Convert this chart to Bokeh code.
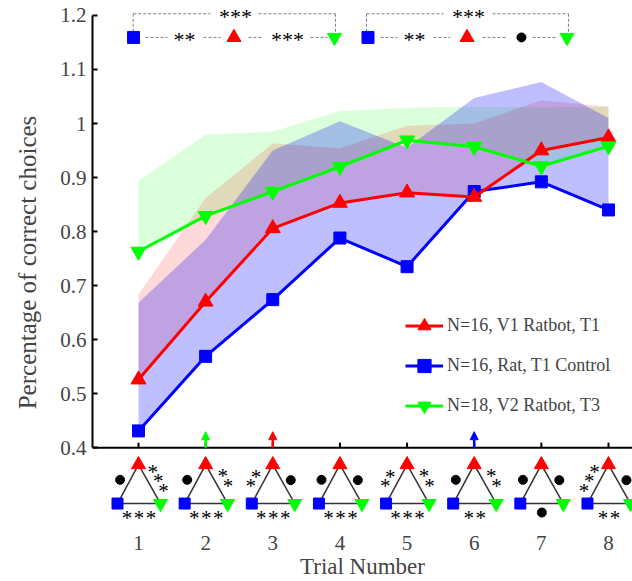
from bokeh.plotting import figure
from bokeh.models import Range1d, FixedTicker, Span, Legend, LegendItem, Arrow, NormalHead
from bokeh.core.properties import value
from bokeh.embed import file_html
from bokeh.resources import INLINE

# ---------------- data ----------------
trials = [1, 2, 3, 4, 5, 6, 7, 8]
x_tick_labels = ["1", "2", "3", "4", "5", "6", "7", "8"]
y_ticks = [0.4, 0.5, 0.6, 0.7, 0.8, 0.9, 1.0, 1.1, 1.2]
y_tick_labels = ["0.4", "0.5", "0.6", "0.7", "0.8", "0.9", "1", "1.1", "1.2"]

v1_mean = [0.526, 0.670, 0.806, 0.853, 0.872, 0.864, 0.950, 0.974]
v1_upper = [0.684, 0.862, 0.963, 0.954, 0.996, 1.000, 1.043, 1.031]
rat_mean = [0.431, 0.569, 0.674, 0.788, 0.735, 0.874, 0.892, 0.840]
rat_upper = [0.668, 0.785, 0.950, 1.004, 0.955, 1.047, 1.077, 1.010]
v2_mean = [0.763, 0.829, 0.874, 0.920, 0.969, 0.957, 0.921, 0.958]
v2_upper = [0.894, 0.979, 0.985, 1.023, 1.029, 1.031, 1.030, 1.031]

series_labels = ["N=16, V1 Ratbot, T1", "N=16, Rat, T1 Control", "N=18, V2 Ratbot, T3"]

# per-trial pairwise significance: "o" = not significant (dot)
left_sig = ["o", "o", "**", "o", "**", "o", "o", "***"]     # V1 vs Rat
right_sig = ["***", "**", "o", "o", "**", "**", "o", "o"]   # V1 vs V2
bottom_sig = ["***", "***", "***", "***", "***", "**", "o", "**"]  # Rat vs V2

arrow_trials = [2, 3, 6]
arrow_colors = ["#00FF00", "#FF0000", "#0000FF"]

RED, BLUE, GREEN = "#FF0000", "#0000FF", "#00FF00"
FONT = "Liberation Serif"

# ---------------- geometry ----------------
W, H = 632, 581
FL = 92          # frame left (px)
FB = 525         # frame bottom (px from top)
PXX = 67.14      # px per trial
PXY = 541.25     # px per unit of y
TOP_PX = 15      # pixel row of y = 1.2
x0 = 1 - (138 - FL) / PXX
x1 = x0 + (W - FL) / PXX
y_end = 1.2 + TOP_PX / PXY
y_start = 1.2 - (FB - TOP_PX) / PXY

p = figure(width=W, height=H, x_range=Range1d(x0, x1), y_range=Range1d(y_start, y_end),
           output_backend="svg", toolbar_location=None,
           min_border_left=FL, min_border_right=0, min_border_top=0, min_border_bottom=H - FB)
p.outline_line_color = None
p.xgrid.grid_line_color = None
p.ygrid.grid_line_color = None
p.background_fill_color = "white"
p.border_fill_color = "white"

# y axis
ya = p.yaxis[0]
ya.ticker = FixedTicker(ticks=y_ticks)
ya.major_label_overrides = {v: s for v, s in zip(y_ticks, y_tick_labels)}
ya.bounds = (0.4, 1.2)
ya.axis_line_width = 2
ya.major_tick_line_width = 2
ya.major_tick_in = 5
ya.major_tick_out = 0
ya.minor_tick_line_color = None
ya.major_label_text_font = FONT
ya.major_label_text_font_size = "21px"
ya.major_label_standoff = 6
ya.axis_label = "Percentage of correct choices"
ya.axis_label_text_font = FONT
ya.axis_label_text_font_size = "25px"
ya.axis_label_text_font_style = "normal"
ya.axis_label_standoff = 16

# x axis (labels only, below the diagrams)
xa = p.xaxis[0]
xa.ticker = FixedTicker(ticks=trials)
xa.major_label_overrides = {t: s for t, s in zip(trials, x_tick_labels)}
xa.axis_line_color = None
xa.major_tick_line_color = None
xa.minor_tick_line_color = None
xa.major_label_text_font = FONT
xa.major_label_text_font_size = "21px"
xa.major_label_standoff = 5
xa.axis_label = "Trial Number"
xa.axis_label_text_font = FONT
xa.axis_label_text_font_size = "23px"
xa.axis_label_text_font_style = "normal"
xa.axis_label_standoff = 1

# axis line at y = 0.4 and inner ticks
p.add_layout(Span(location=0.4, dimension="width", line_color="black", line_width=2))
p.segment(x0=trials, y0=[0.4] * 8, x1=trials, y1=[0.4 + 5 / PXY] * 8, line_color="black", line_width=2)

# ---------------- bands ----------------
p.varea(x=trials, y1=v2_mean, y2=v2_upper, fill_color=GREEN, fill_alpha=0.14)
p.varea(x=trials, y1=v1_mean, y2=v1_upper, fill_color=RED, fill_alpha=0.15)
p.varea(x=trials, y1=rat_mean, y2=rat_upper, fill_color=BLUE, fill_alpha=0.25)

# ---------------- lines ----------------
rl_b = p.line(trials, rat_mean, line_color=BLUE, line_width=3)
rm_b = p.scatter(trials, rat_mean, marker="square", size=12, fill_color=BLUE, line_color=BLUE)
rl_r = p.line(trials, v1_mean, line_color=RED, line_width=3)
rm_r = p.scatter(trials, v1_mean, marker="triangle", size=15, fill_color=RED, line_color=RED)
rl_g = p.line(trials, v2_mean, line_color=GREEN, line_width=3)
rm_g = p.scatter(trials, v2_mean, marker="inverted_triangle", size=15, fill_color=GREEN, line_color=GREEN)

legend = Legend(items=[
    LegendItem(label=series_labels[0], renderers=[rl_r, rm_r]),
    LegendItem(label=series_labels[1], renderers=[rl_b, rm_b]),
    LegendItem(label=series_labels[2], renderers=[rl_g, rm_g]),
], location=(313, FB - 423), border_line_color=None, background_fill_alpha=0,
    padding=0, margin=0, spacing=7, glyph_width=38, glyph_height=33, label_standoff=4,
    label_text_font=FONT, label_text_font_size="18px")
p.add_layout(legend)

# arrows on the axis
for t, c in zip(arrow_trials, arrow_colors):
    p.add_layout(Arrow(end=NormalHead(size=8, fill_color=c, line_color=c),
                       x_start=t, y_start=0.4, x_end=t, y_end=0.4 + 16 / PXY,
                       line_color=c, line_width=2.5))

# ---------------- triangle diagrams under axis ----------------
def X(t, dx):
    return t + dx / PXX

def Y(dy):
    return 0.4 - dy / PXY

TOP, BL, BR = (0, 17), (-21, 56), (22, 56)
seg_x0, seg_y0, seg_x1, seg_y1 = [], [], [], []
star_x, star_y, dot_x, dot_y = [], [], [], []

sides = [
    (left_sig, ((TOP[0] + BL[0]) / 2, (TOP[1] + BL[1]) / 2), (-0.474, 0.880), (-0.880, -0.474), 10, 9, 11),
    (right_sig, ((TOP[0] + BR[0]) / 2, (TOP[1] + BR[1]) / 2), (0.491, 0.871), (0.871, -0.491), 10, 8, 11),
    (bottom_sig, (0.5, 56), (1.0, 0.0), (0.0, 1.0), 12.5, 9, 12),
]
for i, t in enumerate(trials):
    for a, b in [(TOP, BL), (TOP, BR), (BL, BR)]:
        seg_x0.append(X(t, a[0])); seg_y0.append(Y(a[1]))
        seg_x1.append(X(t, b[0])); seg_y1.append(Y(b[1]))
    for sig, mid, d, nrm, s_off, d_off, sp in sides:
        s = sig[i]
        if s == "o":
            dot_x.append(X(t, mid[0] + nrm[0] * d_off)); dot_y.append(Y(mid[1] + nrm[1] * d_off))
        else:
            n = len(s)
            for k in range(n):
                f = (k - (n - 1) / 2) * sp
                star_x.append(X(t, mid[0] + nrm[0] * s_off + d[0] * f))
                star_y.append(Y(mid[1] + nrm[1] * s_off + d[1] * f))

p.segment(x0=seg_x0, y0=seg_y0, x1=seg_x1, y1=seg_y1, line_color="#333333", line_width=1.5)
p.scatter([X(t, TOP[0]) for t in trials], [Y(TOP[1])] * 8, marker="triangle", size=14,
          fill_color=RED, line_color=RED)
p.scatter([X(t, BL[0]) for t in trials], [Y(BL[1])] * 8, marker="square", size=11,
          fill_color=BLUE, line_color=BLUE)
p.scatter([X(t, BR[0]) for t in trials], [Y(BR[1])] * 8, marker="inverted_triangle", size=14,
          fill_color=GREEN, line_color=GREEN)
p.scatter(dot_x, dot_y, marker="circle", size=9, fill_color="black", line_color="black")
p.text(x=star_x, y=star_y, text=["*"] * len(star_x), text_font=value(FONT), text_font_size="21px",
       text_align="center", text_baseline="middle", y_offset=2, text_color="black")

# ---------------- top significance brackets ----------------
row_y = 1.2 - 22 / PXY
br_top = 1.2 + 1.7 / PXY
br_bot = 1.2 - 17 / PXY
DASH = dict(line_color="#7f7f7f", line_width=1, line_dash="3 2")

row_dash = [(1.104, 1.432), (1.968, 2.221), (2.638, 2.862), (3.562, 3.815),
            (4.604, 4.858), (5.394, 5.647), (6.124, 6.496), (6.868, 7.241)]
p.segment(x0=[a for a, b in row_dash], y0=[row_y] * len(row_dash),
          x1=[b for a, b in row_dash], y1=[row_y] * len(row_dash), **DASH)
br_h = [(0.921, 2.072), (2.787, 3.934), (4.396, 5.543), (6.273, 7.404)]
p.segment(x0=[a for a, b in br_h], y0=[br_top] * 4, x1=[b for a, b in br_h], y1=[br_top] * 4, **DASH)
br_v = [0.921, 3.934, 4.396, 7.404]
p.segment(x0=br_v, y0=[br_top] * 4, x1=br_v, y1=[br_bot] * 4, **DASH)

p.scatter([0.926, 4.418], [row_y] * 2, marker="square", size=12, fill_color=BLUE, line_color=BLUE)
p.scatter([2.422, 5.893], [row_y] * 2, marker="triangle", size=14, fill_color=RED, line_color=RED)
p.scatter([3.919, 7.382], [row_y] * 2, marker="inverted_triangle", size=14, fill_color=GREEN, line_color=GREEN)
p.scatter([6.704], [row_y], marker="circle", size=9, fill_color="black", line_color="black")
p.text(x=[1.685, 3.219, 5.111], y=[row_y] * 3, text=["**", "***", "**"], text_font=value(FONT),
       text_font_size="22px", text_align="center", text_baseline="middle", y_offset=2)
p.text(x=[2.445, 5.915], y=[br_top] * 2, text=["***", "***"], text_font=value(FONT),
       text_font_size="22px", text_align="center", text_baseline="middle", y_offset=3)

open("out.html", "w").write(file_html(p, INLINE))
